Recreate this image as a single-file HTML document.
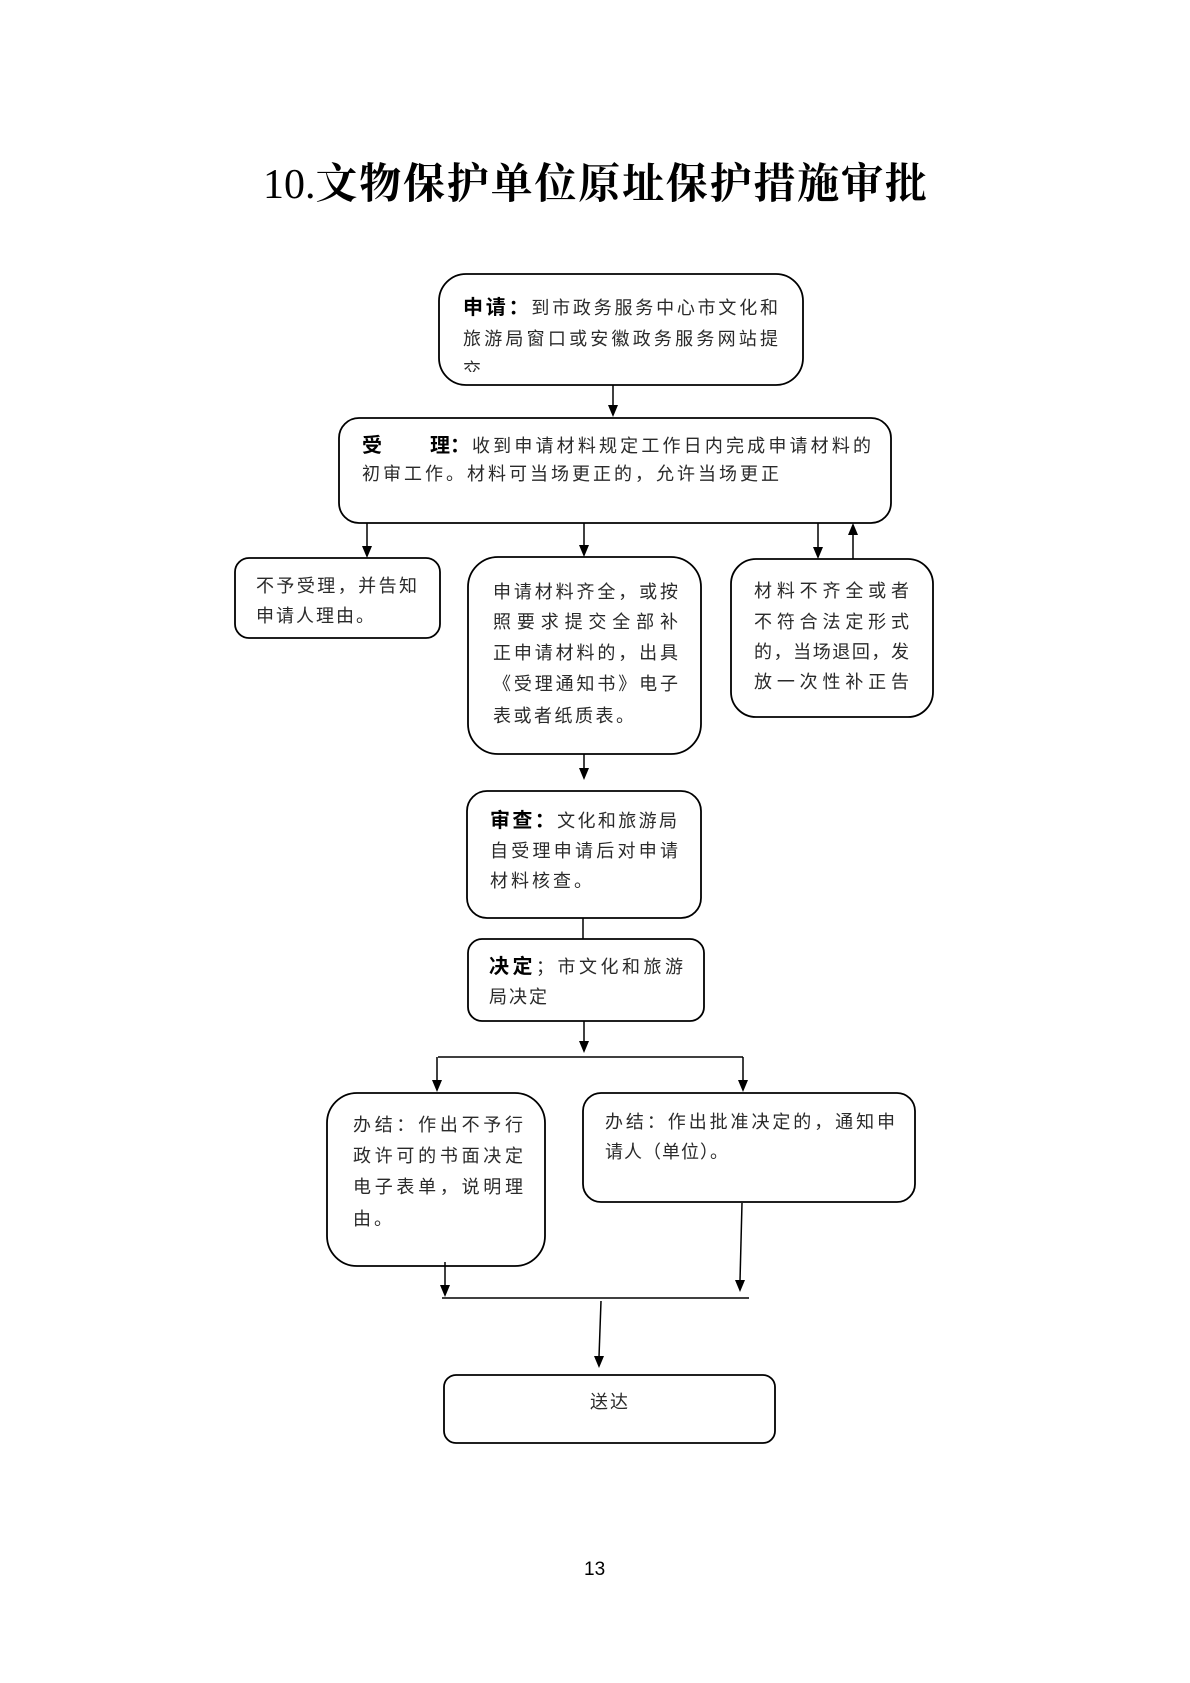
<!DOCTYPE html>
<html>
<head>
<meta charset="utf-8">
<style>
html,body{margin:0;padding:0;background:#fff;}
#page{position:relative;width:1190px;height:1683px;background:#fff;overflow:hidden;}
.t{position:absolute;font-family:"Liberation Sans","Noto Sans CJK SC",sans-serif;font-size:18px;line-height:30px;white-space:nowrap;color:#2a2a2a;letter-spacing:2.5px;}
.j{text-align:justify;text-align-last:justify;letter-spacing:0;}
.b{font-family:"Liberation Sans","Noto Sans CJK SC",sans-serif;font-weight:bold;font-size:20px;color:#000;}
.title{position:absolute;left:263px;top:164px;font-family:"Liberation Serif","Noto Serif CJK SC",serif;font-weight:bold;font-size:42px;line-height:42px;letter-spacing:1.8px;white-space:nowrap;color:#000;}
.title .n{font-weight:normal;letter-spacing:0;}
.clip{position:absolute;overflow:hidden;}
</style>
</head>
<body>
<div id="page">
<svg width="1190" height="1683" style="position:absolute;left:0;top:0">
<g fill="none" stroke="#000" stroke-width="1.8">
<rect x="439" y="274" width="364" height="111" rx="27" ry="27"/>
<rect x="339" y="418" width="552" height="105" rx="20" ry="20"/>
<rect x="235" y="558" width="205" height="80" rx="14" ry="14"/>
<rect x="468" y="557" width="233" height="197" rx="30" ry="30"/>
<rect x="731" y="559" width="202" height="158" rx="25" ry="25"/>
<rect x="467" y="791" width="234" height="127" rx="20" ry="20"/>
<rect x="468" y="939" width="236" height="82" rx="14" ry="14"/>
<rect x="327" y="1093" width="218" height="173" rx="30" ry="30"/>
<rect x="583" y="1093" width="332" height="109" rx="18" ry="18"/>
<rect x="444" y="1375" width="331" height="68" rx="12" ry="12"/>
</g>
<g stroke="#000" stroke-width="1.5" fill="none">
<line x1="613" y1="385" x2="613" y2="406"/>
<line x1="367" y1="523" x2="367" y2="547"/>
<line x1="584" y1="523" x2="584" y2="546"/>
<line x1="818" y1="523" x2="818" y2="548"/>
<line x1="853" y1="559" x2="853" y2="534"/>
<line x1="584" y1="754" x2="584" y2="769"/>
<line x1="583" y1="918" x2="583" y2="939"/>
<line x1="584" y1="1021" x2="584" y2="1042"/>
<line x1="438" y1="1057" x2="743" y2="1057"/>
<line x1="437" y1="1057" x2="437" y2="1081"/>
<line x1="743" y1="1057" x2="743" y2="1081"/>
<line x1="445" y1="1262" x2="445" y2="1286"/>
<line x1="742" y1="1203" x2="740" y2="1281"/>
<line x1="442" y1="1298" x2="749" y2="1298"/>
<line x1="601" y1="1301" x2="599" y2="1357"/>
</g>
<g fill="#000">
<polygon points="608,405 618,405 613,417"/>
<polygon points="362,546 372,546 367,558"/>
<polygon points="579,545 589,545 584,557"/>
<polygon points="813,547 823,547 818,559"/>
<polygon points="848,535 858,535 853,523"/>
<polygon points="579,768 589,768 584,780"/>
<polygon points="579,1041 589,1041 584,1053"/>
<polygon points="432,1080 442,1080 437,1092"/>
<polygon points="738,1080 748,1080 743,1092"/>
<polygon points="440,1285 450,1285 445,1297"/>
<polygon points="735,1280 745,1280 740,1292"/>
<polygon points="594,1356 604,1356 599,1368"/>
</g>
</svg>

<div class="title"><span class="n">10.</span>文物保护单位原址保护措施审批</div>

<!-- 申请 -->
<div class="t j" style="left:463px;top:293px;width:315px;"><span class="b">申请：</span>到市政务服务中心市文化和</div>
<div class="t j" style="left:463px;top:324px;width:315px;">旅游局窗口或安徽政务服务网站提</div>
<div class="clip" style="left:463px;top:355px;width:40px;height:17px;"><div class="t" style="left:0;top:0;">交</div></div>

<!-- 受理 -->
<div class="t" style="left:362px;top:431px;letter-spacing:0;"><span class="b">受</span></div>
<div class="t" style="left:430px;top:431px;letter-spacing:0;"><span class="b">理：</span></div>
<div class="t j" style="left:472px;top:431px;width:399px;">收到申请材料规定工作日内完成申请材料的</div>
<div class="t" style="left:362px;top:459px;letter-spacing:3px;">初审工作。材料可当场更正的，允许当场更正</div>

<!-- 不予受理 -->
<div class="t j" style="left:256px;top:571px;width:161px;">不予受理，并告知</div>
<div class="t" style="left:256px;top:601px;letter-spacing:2px;">申请人理由。</div>

<!-- middle -->
<div class="t j" style="left:493px;top:577px;width:185px;">申请材料齐全，或按</div>
<div class="t j" style="left:493px;top:607px;width:185px;">照要求提交全部补</div>
<div class="t j" style="left:493px;top:638px;width:185px;">正申请材料的，出具</div>
<div class="t j" style="left:493px;top:669px;width:185px;">《受理通知书》电子</div>
<div class="t" style="left:493px;top:701px;letter-spacing:2.5px;">表或者纸质表。</div>

<!-- right -->
<div class="t j" style="left:754px;top:576px;width:155px;">材料不齐全或者</div>
<div class="t j" style="left:754px;top:607px;width:155px;">不符合法定形式</div>
<div class="t j" style="left:754px;top:637px;width:155px;">的，当场退回，发</div>
<div class="t j" style="left:754px;top:667px;width:155px;">放一次性补正告</div>

<!-- 审查 -->
<div class="t j" style="left:490px;top:806px;width:187px;"><span class="b">审查：</span>文化和旅游局</div>
<div class="t j" style="left:490px;top:836px;width:188px;">自受理申请后对申请</div>
<div class="t" style="left:490px;top:866px;letter-spacing:3px;">材料核查。</div>

<!-- 决定 -->
<div class="t j" style="left:489px;top:952px;width:194px;"><span class="b">决定</span>；市文化和旅游</div>
<div class="t" style="left:489px;top:982px;letter-spacing:2px;">局决定</div>

<!-- 办结 left -->
<div class="t j" style="left:353px;top:1110px;width:170px;">办结：作出不予行</div>
<div class="t j" style="left:353px;top:1141px;width:170px;">政许可的书面决定</div>
<div class="t j" style="left:353px;top:1172px;width:170px;">电子表单，说明理</div>
<div class="t" style="left:353px;top:1204px;letter-spacing:3px;">由。</div>

<!-- 办结 right -->
<div class="t j" style="left:605px;top:1107px;width:290px;">办结：作出批准决定的，通知申</div>
<div class="t" style="left:605px;top:1137px;letter-spacing:1px;">请人（单位）。</div>

<!-- 送达 -->
<div class="t" style="left:590px;top:1387px;letter-spacing:2px;">送达</div>

<!-- page number -->
<div style="position:absolute;left:584px;top:1560px;font-family:'Liberation Sans',sans-serif;font-size:19px;line-height:20px;color:#000;">13</div>
</div>
</body>
</html>
